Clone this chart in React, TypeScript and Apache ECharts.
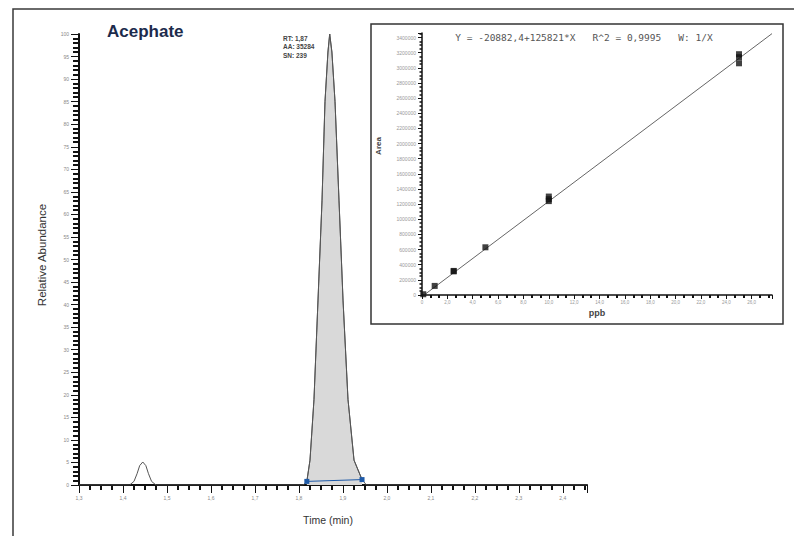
import React, { useEffect, useRef } from "react";
import * as echarts from "echarts";

// Chromatogram axis ticks (retention time, min) and abundance ticks (%)
const timeMin = 1.3;
const timeMax = 2.455;
const timeStep = 0.1;
const abundanceStep = 5;

// Small early peak (outline only)
const smallPeakTime = [1.415, 1.425, 1.432, 1.438, 1.445, 1.452, 1.458, 1.465, 1.475];
const smallPeakAbundance = [0, 0.8, 2.5, 4.3, 5.1, 4.3, 2.5, 0.8, 0];

// Acephate peak between the integration markers
const peakTime = [1.818, 1.8252, 1.8343, 1.8434, 1.8525, 1.8593, 1.866, 1.87, 1.875, 1.8821, 1.8912, 1.9003, 1.9116, 1.9253, 1.9435];
const peakAbundance = [0.8, 5.5, 19, 41, 63, 85, 96, 100, 96, 85, 63, 41, 19, 5.5, 1.2];

// Peak annotation
const peakInfo = ["RT: 1,87", "AA: 35284", "SN: 239"];

// Calibration standards (ppb vs. peak area)
const calLevels = [0.1, 1, 2.5, 2.5, 5, 10, 10, 10, 25, 25, 25];
const calAreas = [10000, 120000, 312000, 318000, 630000, 1240000, 1265000, 1300000, 3060000, 3140000, 3180000];
const fitIntercept = -20882.4;
const fitSlope = 125821;
const calXMax = 27.6;
const calYMax = 3460000;
const calXStep = 2;
const calYStep = 200000;
const fitLabel = "Y = -20882,4+125821*X   R^2 = 0,9995   W: 1/X";

const SANS = "'Liberation Sans', Arial, sans-serif";

export default function App() {
  const ref = useRef<HTMLDivElement>(null);

  useEffect(() => {
    if (!ref.current) return;
    const chart = echarts.init(ref.current, undefined, { renderer: "svg" });

    const pts = (xs: number[], ys: number[]) => xs.map((x, i) => [x, ys[i]]);

    const trace = [
      [timeMin, 0],
      ...pts(smallPeakTime, smallPeakAbundance),
      [peakTime[0] - 0.008, 0],
      ...pts(peakTime, peakAbundance),
      [peakTime[peakTime.length - 1] + 0.01, 0],
      [timeMax, 0],
    ];
    const markers = [
      [peakTime[0], peakAbundance[0]],
      [peakTime[peakTime.length - 1], peakAbundance[peakAbundance.length - 1]],
    ];
    const fitStart = -fitIntercept / fitSlope;
    const fitLine = [
      [fitStart, 0],
      [calXMax, fitIntercept + fitSlope * calXMax],
    ];

    const comma = (v: number, d: number) => v.toFixed(d).replace(".", ",");

    chart.setOption({
      animation: false,
      backgroundColor: "#ffffff",
      grid: [
        { left: 79, top: 34, width: 508, height: 451 },
        { left: 422, top: 33, width: 350, height: 262 },
      ],
      xAxis: [
        {
          type: "value",
          gridIndex: 0,
          min: timeMin,
          max: timeMax,
          interval: timeStep,
          axisLine: { lineStyle: { color: "#111", width: 2 } },
          axisTick: { length: 8, lineStyle: { color: "#111", width: 1 } },
          minorTick: { show: true, splitNumber: 4, length: 5, lineStyle: { color: "#111", width: 2 } },
          splitLine: { show: false },
          axisLabel: {
            margin: 10,
            fontSize: 5,
            color: "#888",
            fontFamily: SANS,
            showMaxLabel: false,
            formatter: (v: number) => comma(v, 1),
          },
        },
        {
          type: "value",
          gridIndex: 1,
          min: 0,
          max: calXMax,
          interval: calXStep,
          axisLine: { lineStyle: { color: "#111", width: 1.5 } },
          axisTick: { length: 4, lineStyle: { color: "#111", width: 1 } },
          minorTick: { show: true, splitNumber: 3, length: 3, lineStyle: { color: "#111", width: 2 } },
          splitLine: { show: false },
          axisLabel: {
            margin: 5,
            fontSize: 4.5,
            color: "#999",
            fontFamily: SANS,
            showMaxLabel: false,
            formatter: (v: number) => (v === 0 ? "0" : comma(v, 1)),
          },
        },
      ],
      yAxis: [
        {
          type: "value",
          gridIndex: 0,
          min: 0,
          max: 100,
          interval: abundanceStep,
          axisLine: { show: true, lineStyle: { color: "#111", width: 2 } },
          axisTick: { show: true, length: 8, lineStyle: { color: "#111", width: 1 } },
          minorTick: { show: true, splitNumber: 5, length: 6, lineStyle: { color: "#111", width: 2 } },
          splitLine: { show: false },
          axisLabel: {
            margin: 10,
            fontSize: 5,
            color: "#888",
            fontFamily: SANS,
          },
        },
        {
          type: "value",
          gridIndex: 1,
          min: 0,
          max: calYMax,
          interval: calYStep,
          axisLine: { show: true, lineStyle: { color: "#111", width: 1.5 } },
          axisTick: { show: true, length: 4, lineStyle: { color: "#111", width: 1 } },
          minorTick: { show: true, splitNumber: 4, length: 2.5, lineStyle: { color: "#111", width: 1.5 } },
          splitLine: { show: false },
          axisLabel: {
            margin: 6,
            fontSize: 5,
            color: "#999",
            fontFamily: SANS,
            showMaxLabel: false,
            formatter: (v: number) => String(v),
          },
        },
      ],
      series: [
        {
          name: "trace",
          type: "line",
          xAxisIndex: 0,
          yAxisIndex: 0,
          data: trace,
          showSymbol: false,
          lineStyle: { color: "#555", width: 1 },
          z: 3,
        },
        {
          name: "Acephate",
          type: "line",
          xAxisIndex: 0,
          yAxisIndex: 0,
          data: pts(peakTime, peakAbundance),
          showSymbol: false,
          lineStyle: { color: "#555", width: 1 },
          areaStyle: { color: "#d9d9d9", opacity: 1 },
          z: 2,
        },
        {
          name: "baseline",
          type: "line",
          xAxisIndex: 0,
          yAxisIndex: 0,
          data: markers,
          symbol: "rect",
          symbolSize: 5,
          itemStyle: { color: "#1e5aa8" },
          lineStyle: { color: "#1e5aa8", width: 1 },
          z: 4,
        },
        {
          name: "fit",
          type: "line",
          xAxisIndex: 1,
          yAxisIndex: 1,
          data: fitLine,
          showSymbol: false,
          lineStyle: { color: "#666", width: 1 },
        },
        {
          name: "standards",
          type: "scatter",
          xAxisIndex: 1,
          yAxisIndex: 1,
          data: pts(calLevels, calAreas),
          symbol: "rect",
          symbolSize: 6,
          itemStyle: { color: "#111" },
          z: 4,
        },
      ],
      graphic: [
        {
          type: "rect",
          silent: true,
          shape: { x: 13, y: 9, width: 800, height: 540 },
          style: { fill: "none", stroke: "#3a3a3a", lineWidth: 1.5 },
        },
        {
          type: "rect",
          silent: true,
          shape: { x: 371, y: 24, width: 412, height: 300 },
          style: { fill: "none", stroke: "#333", lineWidth: 1.5 },
        },
        {
          type: "text",
          x: 107,
          y: 40,
          style: {
            text: "Acephate",
            fill: "#1d2b4c",
            font: `bold 17px ${SANS}`,
            textAlign: "left",
            textVerticalAlign: "bottom",
          },
        },
        ...peakInfo.map((t, i) => ({
          type: "text",
          x: 283,
          y: 38 + i * 8.5,
          style: {
            text: t,
            fill: "#444",
            font: `bold 6.5px ${SANS}`,
            textAlign: "left",
            textVerticalAlign: "middle",
          },
        })),
        {
          type: "text",
          x: 42,
          y: 255,
          rotation: Math.PI / 2,
          style: {
            text: "Relative Abundance",
            fill: "#333",
            font: `11.5px ${SANS}`,
            textAlign: "center",
            textVerticalAlign: "middle",
          },
        },
        {
          type: "text",
          x: 328,
          y: 520,
          style: {
            text: "Time (min)",
            fill: "#333",
            font: `10.5px ${SANS}`,
            textAlign: "center",
            textVerticalAlign: "middle",
          },
        },
        {
          type: "text",
          x: 584,
          y: 37,
          style: {
            text: fitLabel,
            fill: "#555",
            font: `9.5px 'DejaVu Sans Mono', monospace`,
            textAlign: "center",
            textVerticalAlign: "middle",
          },
        },
        {
          type: "text",
          x: 378,
          y: 146,
          rotation: Math.PI / 2,
          style: {
            text: "Area",
            fill: "#444",
            font: `bold 8px ${SANS}`,
            textAlign: "center",
            textVerticalAlign: "middle",
          },
        },
        {
          type: "text",
          x: 597,
          y: 313,
          style: {
            text: "ppb",
            fill: "#444",
            font: `bold 9px ${SANS}`,
            textAlign: "center",
            textVerticalAlign: "middle",
          },
        },
      ],
    });

    return () => chart.dispose();
  }, []);

  return (
    <div
      ref={ref}
      style={{ position: "fixed", left: 0, top: 0, width: 794, height: 536, background: "#fff" }}
    />
  );
}
